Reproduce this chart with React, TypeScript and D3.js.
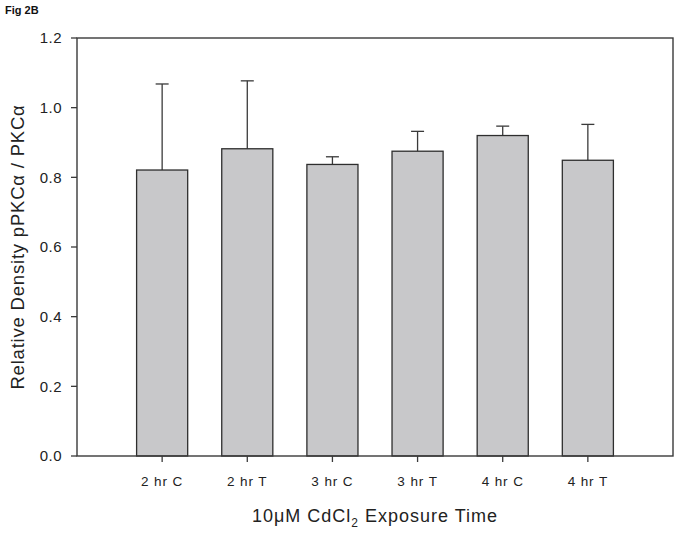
import React from 'react';
import * as d3 from 'd3';

const width = 679;
const height = 535;
const margin = { top: 38, right: 6, bottom: 79, left: 77 };

const categories = ['2 hr C', '2 hr T', '3 hr C', '3 hr T', '4 hr C', '4 hr T'];
const means = [0.821, 0.882, 0.837, 0.875, 0.92, 0.849];
const errTops = [1.068, 1.077, 0.859, 0.932, 0.947, 0.952];
const yTicks = [0, 0.2, 0.4, 0.6, 0.8, 1.0, 1.2];

const font = 'Arial, "Liberation Sans", Helvetica, sans-serif';

const App = () => {
  const x = d3.scalePoint<string>()
    .domain(categories)
    .range([margin.left, width - margin.right])
    .padding(1);

  const y = d3.scaleLinear()
    .domain([0, 1.2])
    .range([height - margin.bottom, margin.top]);

  const barW = x.step() * 0.6;
  const capW = 13;
  const x0 = margin.left;
  const x1 = width - margin.right;
  const y0 = y(0);
  const axisColor = '#3a3a3a';

  return (
    <svg width={width} height={height} style={{ position: 'absolute', left: 0, top: 0, background: '#fff' }}>
      <text x={5} y={14} fontFamily={font} fontSize={11} fontWeight="bold" fill="#111">Fig 2B</text>

      {categories.map((c, i) => {
        const cx = x(c) as number;
        return (
          <g key={c}>
            <line x1={cx} x2={cx} y1={y(means[i])} y2={y(errTops[i])} stroke={axisColor} strokeWidth={1.3} />
            <line x1={cx - capW / 2} x2={cx + capW / 2} y1={y(errTops[i])} y2={y(errTops[i])} stroke={axisColor} strokeWidth={1.3} />
            <rect x={cx - barW / 2} y={y(means[i])} width={barW} height={y0 - y(means[i])}
              fill="#c8c8ca" stroke="#2e2e2e" strokeWidth={1.3} />
          </g>
        );
      })}

      {/* frame */}
      <rect x={x0} y={margin.top} width={x1 - x0} height={y0 - margin.top} fill="none" stroke={axisColor} strokeWidth={1.4} />

      {/* y axis ticks */}
      {yTicks.map(t => (
        <g key={t}>
          <line x1={x0 - 6} x2={x0} y1={y(t)} y2={y(t)} stroke={axisColor} strokeWidth={1.3} />
          <text x={62} y={y(t)} dy="0.35em" textAnchor="end" fontFamily={font} fontSize={15} letterSpacing={0.5} fill="#222">{t.toFixed(1)}</text>
        </g>
      ))}

      {/* x axis ticks */}
      {categories.map(c => (
        <g key={c}>
          <line x1={x(c)} x2={x(c)} y1={y0} y2={y0 + 6} stroke={axisColor} strokeWidth={1.3} />
          <text x={x(c)} y={y0 + 30} textAnchor="middle" fontFamily={font} fontSize={13.5} letterSpacing={0.9} fill="#222">{c}</text>
        </g>
      ))}

      <text transform={`translate(24,${(margin.top + y0) / 2}) rotate(-90)`} textAnchor="middle"
        fontFamily={font} fontSize={18.5} letterSpacing={0.8} fill="#222">Relative Density pPKCα / PKCα</text>

      <text x={(x0 + x1) / 2} y={y0 + 66} textAnchor="middle" fontFamily={font} fontSize={18} letterSpacing={1} fill="#222">
        10μM CdCl<tspan dy={5} fontSize={12}>2</tspan><tspan dy={-5}> Exposure Time</tspan>
      </text>
    </svg>
  );
};

export default App;
